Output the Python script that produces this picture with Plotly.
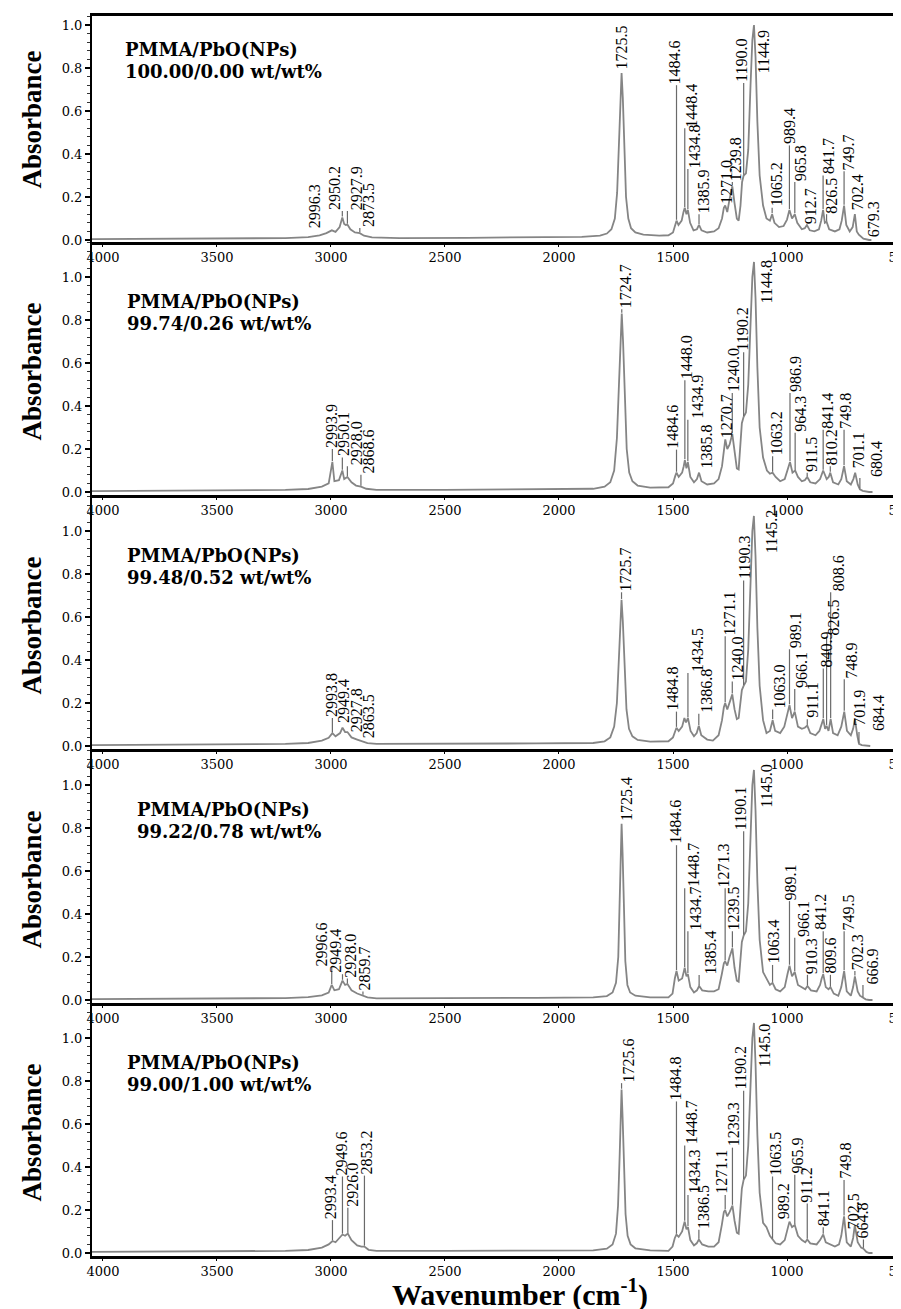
import numpy as np
import plotly.graph_objects as go

# ---------------- data ----------------
x_ticks = [4000, 3500, 3000, 2500, 2000, 1500, 1000, 500]
y_ticks = [0.0, 0.2, 0.4, 0.6, 0.8, 1.0]

titles = ["PMMA/PbO(NPs)"] * 5
ratios = ["100.00/0.00 wt/wt%", "99.74/0.26 wt/wt%", "99.48/0.52 wt/wt%",
          "99.22/0.78 wt/wt%", "99.00/1.00 wt/wt%"]

sp1_wn = [4048, 3800, 3500, 3200, 3100, 3050, 3020, 2996.3, 2980, 2962, 2950.2, 2942, 2935, 2927.9, 2915, 2895, 2873.5, 2855, 2820, 2700, 2400, 2100, 1900, 1820, 1790, 1770, 1755, 1745, 1737, 1731, 1725.5, 1720, 1714, 1706, 1696, 1684, 1665, 1630, 1560, 1520, 1500, 1490, 1484.6, 1476, 1462, 1454, 1448.4, 1441, 1434.8, 1425, 1410, 1395, 1385.9, 1375, 1350, 1320, 1300, 1285, 1277, 1271.0, 1262, 1252, 1239.8, 1230, 1220, 1212, 1204, 1197, 1190.0, 1180, 1170, 1160, 1152, 1144.9, 1138, 1130, 1120, 1105, 1090, 1075, 1065.2, 1055, 1035, 1015, 1000, 989.4, 978, 965.8, 955, 935, 922, 912.7, 900, 880, 860, 850, 841.7, 834, 826.5, 815, 790, 770, 760, 749.7, 740, 725, 712, 702.4, 694, 685, 679.3, 665, 640, 630]
sp1_ab = [0.004, 0.005, 0.006, 0.009, 0.013, 0.022, 0.032, 0.045, 0.038, 0.06, 0.105, 0.075, 0.07, 0.072, 0.05, 0.035, 0.032, 0.02, 0.012, 0.009, 0.01, 0.012, 0.015, 0.02, 0.03, 0.05, 0.1, 0.22, 0.45, 0.68, 0.777, 0.66, 0.42, 0.2, 0.1, 0.055, 0.035, 0.025, 0.02, 0.022, 0.035, 0.07, 0.09, 0.07, 0.09, 0.13, 0.15, 0.12, 0.14, 0.08, 0.045, 0.05, 0.07, 0.045, 0.035, 0.04, 0.055, 0.1, 0.15, 0.16, 0.13, 0.19, 0.25, 0.17, 0.1, 0.09, 0.16, 0.27, 0.30, 0.31, 0.42, 0.72, 0.93, 1.0, 0.85, 0.55, 0.3, 0.16, 0.1, 0.09, 0.12, 0.08, 0.06, 0.065, 0.095, 0.14, 0.1, 0.12, 0.08, 0.05, 0.055, 0.07, 0.045, 0.04, 0.05, 0.09, 0.14, 0.08, 0.085, 0.05, 0.04, 0.05, 0.09, 0.16, 0.07, 0.04, 0.06, 0.12, 0.04, 0.025, 0.02, 0.006, 0.0, 0.0]

sp2_wn = [4048, 3800, 3500, 3200, 3100, 3040, 3010, 2993.9, 2985, 2965, 2950.1, 2942, 2928.0, 2910, 2890, 2868.6, 2845, 2800, 2500, 2100, 1850, 1800, 1775, 1758, 1746, 1737, 1730, 1724.7, 1719, 1712, 1703, 1692, 1678, 1655, 1600, 1520, 1500, 1490, 1484.6, 1475, 1460, 1453, 1448.0, 1441, 1434.9, 1424, 1408, 1395, 1385.8, 1375, 1350, 1320, 1300, 1285, 1276, 1270.7, 1262, 1252, 1240.0, 1230, 1220, 1212, 1205, 1198, 1190.2, 1180, 1170, 1160, 1152, 1144.8, 1138, 1130, 1120, 1105, 1088, 1075, 1063.2, 1050, 1030, 1010, 997, 986.9, 976, 964.3, 952, 935, 922, 911.5, 898, 875, 855, 848, 841.4, 826, 817, 810.2, 798, 775, 762, 749.8, 738, 720, 709, 701.1, 690, 680.4, 668, 640, 625]
sp2_ab = [0.004, 0.005, 0.006, 0.01, 0.014, 0.025, 0.04, 0.14, 0.05, 0.055, 0.10, 0.06, 0.07, 0.045, 0.03, 0.025, 0.015, 0.01, 0.01, 0.012, 0.015, 0.025, 0.045, 0.1, 0.25, 0.5, 0.72, 0.83, 0.7, 0.45, 0.2, 0.09, 0.05, 0.03, 0.02, 0.022, 0.04, 0.075, 0.09, 0.07, 0.09, 0.12, 0.148, 0.11, 0.14, 0.07, 0.045, 0.06, 0.09, 0.05, 0.035, 0.04, 0.06, 0.12, 0.2, 0.245, 0.2, 0.22, 0.27, 0.18, 0.11, 0.105, 0.2, 0.32, 0.35, 0.37, 0.5, 0.82, 1.0, 1.07, 0.9, 0.58, 0.3, 0.16, 0.1, 0.085, 0.09, 0.07, 0.05, 0.06, 0.1, 0.14, 0.09, 0.1, 0.07, 0.05, 0.055, 0.07, 0.045, 0.04, 0.06, 0.08, 0.10, 0.06, 0.07, 0.09, 0.045, 0.035, 0.06, 0.12, 0.05, 0.035, 0.06, 0.09, 0.035, 0.012, 0.005, 0.0, 0.0]

sp3_wn = [4048, 3800, 3500, 3200, 3100, 3040, 3010, 2993.8, 2980, 2960, 2949.4, 2938, 2927.8, 2910, 2885, 2863.5, 2840, 2800, 2500, 2100, 1850, 1800, 1775, 1758, 1746, 1737, 1731, 1725.7, 1720, 1713, 1704, 1693, 1678, 1655, 1600, 1520, 1500, 1490, 1484.8, 1475, 1460, 1450, 1443, 1434.5, 1423, 1408, 1396, 1386.8, 1376, 1350, 1325, 1300, 1285, 1277, 1271.1, 1262, 1252, 1240.0, 1230, 1220, 1212, 1205, 1198, 1190.3, 1180, 1170, 1160, 1152, 1145.2, 1138, 1130, 1120, 1105, 1090, 1075, 1063.0, 1052, 1030, 1012, 1000, 989.1, 978, 966.1, 952, 935, 922, 911.1, 898, 875, 858, 848, 840.9, 833, 826.5, 818, 808.6, 798, 778, 762, 748.9, 737, 720, 710, 701.9, 692, 684.4, 672, 650, 635]
sp3_ab = [0.004, 0.006, 0.007, 0.01, 0.014, 0.025, 0.038, 0.06, 0.045, 0.06, 0.085, 0.065, 0.065, 0.04, 0.03, 0.022, 0.013, 0.01, 0.01, 0.012, 0.014, 0.022, 0.04, 0.09, 0.2, 0.42, 0.6, 0.68, 0.58, 0.38, 0.17, 0.08, 0.045, 0.028, 0.02, 0.022, 0.04, 0.07, 0.085, 0.07, 0.09, 0.13, 0.11, 0.13, 0.07, 0.045, 0.06, 0.094, 0.05, 0.03, 0.025, 0.05, 0.12, 0.18, 0.2, 0.17, 0.2, 0.24, 0.17, 0.125, 0.13, 0.2, 0.26, 0.28, 0.3, 0.45, 0.8, 1.0, 1.07, 0.88, 0.55, 0.28, 0.12, 0.06, 0.07, 0.12, 0.07, 0.06, 0.09, 0.15, 0.19, 0.13, 0.16, 0.09, 0.08, 0.085, 0.095, 0.06, 0.05, 0.07, 0.1, 0.125, 0.08, 0.094, 0.07, 0.125, 0.06, 0.05, 0.09, 0.16, 0.07, 0.05, 0.08, 0.125, 0.05, 0.01, 0.004, 0.0, 0.0]

sp4_wn = [4048, 3800, 3500, 3200, 3100, 3040, 3010, 2996.6, 2985, 2965, 2949.4, 2938, 2928.0, 2910, 2885, 2859.7, 2840, 2800, 2500, 2100, 1850, 1790, 1765, 1750, 1740, 1733, 1729, 1725.4, 1721, 1716, 1709, 1700, 1688, 1665, 1600, 1520, 1502, 1492, 1484.6, 1475, 1460, 1453, 1448.7, 1441, 1434.7, 1424, 1408, 1395, 1385.4, 1372, 1345, 1320, 1300, 1286, 1277, 1271.3, 1262, 1252, 1239.5, 1230, 1220, 1212, 1205, 1198, 1190.1, 1180, 1170, 1160, 1152, 1145.0, 1138, 1130, 1120, 1105, 1090, 1075, 1063.4, 1050, 1030, 1010, 998, 989.1, 978, 966.1, 952, 935, 920, 910.3, 895, 870, 855, 848, 841.2, 830, 818, 809.6, 795, 775, 762, 749.5, 738, 720, 710, 702.3, 690, 680, 666.9, 655, 640, 625]
sp4_ab = [0.004, 0.005, 0.006, 0.009, 0.013, 0.022, 0.035, 0.07, 0.045, 0.05, 0.09, 0.07, 0.075, 0.045, 0.03, 0.02, 0.012, 0.008, 0.008, 0.01, 0.012, 0.018, 0.035, 0.08, 0.2, 0.45, 0.7, 0.82, 0.68, 0.42, 0.18, 0.07, 0.035, 0.02, 0.012, 0.012, 0.03, 0.1, 0.135, 0.09, 0.1, 0.13, 0.15, 0.11, 0.12, 0.06, 0.035, 0.045, 0.065, 0.045, 0.04, 0.04, 0.05, 0.12, 0.17, 0.18, 0.16, 0.2, 0.24, 0.15, 0.09, 0.085, 0.16, 0.27, 0.30, 0.32, 0.45, 0.8, 1.0, 1.07, 0.88, 0.55, 0.28, 0.13, 0.1, 0.07, 0.08, 0.05, 0.04, 0.06, 0.12, 0.16, 0.11, 0.13, 0.07, 0.06, 0.05, 0.065, 0.045, 0.04, 0.07, 0.1, 0.12, 0.06, 0.05, 0.06, 0.03, 0.02, 0.06, 0.135, 0.04, 0.02, 0.06, 0.11, 0.04, 0.02, 0.01, 0.003, 0.0, 0.0]

sp5_wn = [4048, 3800, 3500, 3200, 3100, 3040, 3010, 2993.4, 2980, 2965, 2949.6, 2938, 2926.0, 2910, 2885, 2866, 2853.2, 2835, 2800, 2500, 2100, 1850, 1790, 1765, 1750, 1741, 1734, 1729, 1725.6, 1721, 1715, 1708, 1699, 1686, 1665, 1600, 1520, 1502, 1492, 1484.8, 1475, 1460, 1453, 1448.7, 1441, 1434.3, 1424, 1408, 1396, 1386.5, 1372, 1345, 1320, 1300, 1286, 1277, 1271.1, 1262, 1252, 1239.3, 1230, 1220, 1212, 1205, 1198, 1190.2, 1180, 1170, 1160, 1152, 1145.0, 1138, 1130, 1120, 1105, 1090, 1075, 1063.5, 1050, 1030, 1010, 998, 989.2, 978, 965.9, 952, 935, 920, 911.2, 898, 870, 855, 841.1, 830, 810, 790, 772, 762, 749.8, 738, 720, 710, 702.5, 690, 675, 664.8, 652, 640, 625]
sp5_ab = [0.005, 0.006, 0.007, 0.01, 0.014, 0.025, 0.04, 0.056, 0.05, 0.07, 0.086, 0.08, 0.09, 0.06, 0.035, 0.03, 0.03, 0.015, 0.01, 0.01, 0.01, 0.012, 0.02, 0.04, 0.09, 0.22, 0.45, 0.65, 0.76, 0.63, 0.4, 0.18, 0.08, 0.04, 0.022, 0.012, 0.01, 0.03, 0.07, 0.086, 0.075, 0.1, 0.13, 0.146, 0.11, 0.12, 0.06, 0.035, 0.045, 0.063, 0.04, 0.03, 0.03, 0.05, 0.13, 0.19, 0.2, 0.17, 0.19, 0.22, 0.15, 0.095, 0.09, 0.18, 0.3, 0.34, 0.36, 0.5, 0.82, 1.0, 1.07, 0.88, 0.55, 0.28, 0.14, 0.12, 0.08, 0.063, 0.045, 0.04, 0.06, 0.11, 0.146, 0.12, 0.13, 0.08, 0.06, 0.05, 0.063, 0.045, 0.04, 0.06, 0.086, 0.05, 0.04, 0.03, 0.04, 0.08, 0.17, 0.05, 0.03, 0.07, 0.13, 0.05, 0.025, 0.02, 0.005, 0.0, 0.0]

# peak labels: text (= wavenumber), label centre wavenumber, label bottom absorbance
pk1_txt = ["2996.3", "2950.2", "2927.9", "2873.5", "1725.5", "1484.6", "1448.4", "1434.8", "1385.9", "1271.0", "1239.8", "1190.0", "1144.9", "1065.2", "989.4", "965.8", "912.7", "841.7", "826.5", "749.7", "702.4", "679.3"]
pk1_lx = [3074, 2982, 2885, 2833, 1726, 1494, 1419, 1406, 1367, 1266, 1222, 1200, 1099, 1046, 989, 937, 893, 818, 805, 731, 687, 621]
pk1_ly = [0.05, 0.135, 0.135, 0.056, 0.79, 0.72, 0.52, 0.33, 0.12, 0.165, 0.27, 0.73, 0.77, 0.15, 0.44, 0.27, 0.07, 0.30, 0.12, 0.32, 0.135, 0.01]

pk2_txt = ["2993.9", "2950.1", "2928.0", "2868.6", "1724.7", "1484.6", "1448.0", "1434.9", "1385.8", "1270.7", "1240.0", "1190.2", "1144.8", "1063.2", "986.9", "964.3", "911.5", "841.4", "810.2", "749.8", "701.1", "680.4"]
pk2_lx = [3000, 2945, 2890, 2835, 1710, 1500, 1443, 1390, 1355, 1268, 1237, 1193, 1092, 1048, 965, 939, 895, 820, 807, 741, 689, 610]
pk2_ly = [0.20, 0.16, 0.12, 0.08, 0.85, 0.197, 0.52, 0.336, 0.105, 0.245, 0.46, 0.65, 0.87, 0.166, 0.46, 0.275, 0.09, 0.29, 0.12, 0.29, 0.105, 0.065]

pk3_txt = ["2993.8", "2949.4", "2927.8", "2863.5", "1725.7", "1484.8", "1434.5", "1386.8", "1271.1", "1240.0", "1190.3", "1145.2", "1063.0", "989.1", "966.1", "911.1", "840.9", "826.5", "808.6", "748.9", "701.9", "684.4"]
pk3_lx = [3000, 2945, 2890, 2835, 1710, 1500, 1390, 1351, 1254, 1219, 1184, 1070, 1031, 965, 939, 886, 825, 798, 776, 719, 680, 601]
pk3_ly = [0.13, 0.10, 0.06, 0.03, 0.715, 0.16, 0.34, 0.15, 0.51, 0.30, 0.77, 0.89, 0.17, 0.45, 0.265, 0.125, 0.36, 0.51, 0.715, 0.31, 0.09, 0.065]

pk4_txt = ["2996.6", "2949.4", "2928.0", "2859.7", "1725.4", "1484.6", "1448.7", "1434.7", "1385.4", "1271.3", "1239.5", "1190.1", "1145.0", "1063.4", "989.1", "966.1", "910.3", "841.2", "809.6", "749.5", "702.3", "666.9"]
pk4_lx = [3040, 2980, 2915, 2855, 1704, 1489, 1410, 1402, 1336, 1279, 1235, 1204, 1090, 1059, 985, 928, 893, 853, 809, 731, 687, 621]
pk4_ly = [0.15, 0.12, 0.10, 0.04, 0.83, 0.72, 0.52, 0.32, 0.116, 0.52, 0.32, 0.785, 0.89, 0.163, 0.46, 0.29, 0.117, 0.32, 0.117, 0.32, 0.135, 0.07]

pk5_txt = ["2993.4", "2949.6", "2926.0", "2853.2", "1725.6", "1484.8", "1448.7", "1434.3", "1386.5", "1271.1", "1239.3", "1190.2", "1145.0", "1063.5", "989.2", "965.9", "911.2", "841.1", "749.8", "702.5", "664.8"]
pk5_lx = [3004, 2956, 2904, 2842, 1696, 1491, 1418, 1405, 1367, 1286, 1234, 1205, 1098, 1051, 1017, 953, 918, 842, 743, 709, 671]
pk5_ly = [0.153, 0.356, 0.21, 0.36, 0.79, 0.705, 0.50, 0.27, 0.108, 0.27, 0.49, 0.755, 0.86, 0.356, 0.153, 0.364, 0.23, 0.12, 0.34, 0.108, 0.063]

spectra = [(sp1_wn, sp1_ab), (sp2_wn, sp2_ab), (sp3_wn, sp3_ab), (sp4_wn, sp4_ab), (sp5_wn, sp5_ab)]
peaks = [(pk1_txt, pk1_lx, pk1_ly), (pk2_txt, pk2_lx, pk2_ly), (pk3_txt, pk3_lx, pk3_ly),
         (pk4_txt, pk4_lx, pk4_ly), (pk5_txt, pk5_lx, pk5_ly)]

# ---------------- layout ----------------
W, H = 901, 1309
ML, MR, MT, MB = 84, 0, 8, 61
plot_h = H - MT - MB
axis_px = [234, 487, 741, 995, 1248]
top_px = [8, 234, 487, 741, 995]
zero_px = [232, 484, 738, 992, 1245]
px_per_unit = 215.0
label_x0 = [3912, 3904, 3904, 3860, 3904]

def frac(y):
    return (H - MB - y) / plot_h

SPEC_COLOR = "#858585"
TICK_FONT = dict(family="DejaVu Serif", size=13, color="black")

fig = go.Figure()
annotations = []
layout = {}

for i in range(5):
    k = i + 1
    sfx = "" if k == 1 else str(k)
    xa, ya = "x" + sfx, "y" + sfx
    wn, ab = spectra[i]
    fig.add_trace(go.Scatter(x=wn, y=ab, xaxis=xa, yaxis=ya, mode="lines",
                             line=dict(color=SPEC_COLOR, width=1.8),
                             hoverinfo="skip", showlegend=False))
    # leader lines
    order = np.argsort(wn)
    wn_s = np.array(wn)[order]
    ab_s = np.array(ab)[order]
    lx_list, ly_list = [], []
    txt, lxs, lys = peaks[i]
    for t, lx, ly in zip(txt, lxs, lys):
        p = float(t)
        pa = float(np.interp(p, wn_s, ab_s))
        if ly > pa + 0.015:
            lx_list += [p, p, None]
            ly_list += [pa + 0.004, ly, None]
        annotations.append(dict(x=lx, y=ly, xref=xa, yref=ya, text=t, textangle=-90,
                                xanchor="center", yanchor="bottom", showarrow=False,
                                borderpad=0,
                                font=dict(family="Liberation Serif", size=16, color="#000000")))
    fig.add_trace(go.Scatter(x=lx_list, y=ly_list, xaxis=xa, yaxis=ya, mode="lines",
                             line=dict(color="#6a6a6a", width=1.2),
                             hoverinfo="skip", showlegend=False))

    y0 = -(axis_px[i] - zero_px[i]) / px_per_unit
    y1 = (zero_px[i] - top_px[i]) / px_per_unit
    layout["xaxis" + sfx] = dict(domain=[0, 1], range=[4048, 465], anchor=ya,
                                 tickvals=x_ticks, ticktext=[str(v) for v in x_ticks],
                                 tickfont=TICK_FONT, showline=True, linecolor="black",
                                 linewidth=2.5, mirror=(k == 1), ticks="outside", ticklen=2,
                                 tickcolor="black", showgrid=False, zeroline=False,
                                 ticklabeloverflow="allow")
    layout["yaxis" + sfx] = dict(domain=[frac(axis_px[i]), frac(top_px[i])], range=[y0, y1],
                                 anchor=xa, tickvals=y_ticks,
                                 ticktext=["%.1f" % v for v in y_ticks],
                                 tickfont=TICK_FONT, showline=True, linecolor="black",
                                 linewidth=2, ticks="outside", ticklen=5, tickwidth=1.5,
                                 tickcolor="black",
                                 minor=dict(dtick=0.04, tick0=0, ticks="outside", ticklen=3,
                                            tickcolor="#333", tickwidth=1),
                                 showgrid=False, zeroline=False)
    # sample label
    annotations.append(dict(x=label_x0[i], y=0.885, xref=xa, yref=ya, text="<b>%s</b>" % titles[i],
                            xanchor="left", yanchor="middle", showarrow=False,
                            font=dict(family="DejaVu Serif", size=18, color="black")))
    annotations.append(dict(x=label_x0[i], y=0.785, xref=xa, yref=ya, text="<b>%s</b>" % ratios[i],
                            xanchor="left", yanchor="middle", showarrow=False,
                            font=dict(family="DejaVu Serif", size=18, color="black")))
    # y-axis title
    annotations.append(dict(x=(24 - ML) / (W - ML - MR), y=0.56, xref="paper", yref=ya,
                            text="<b>Absorbance</b>", textangle=-90, xanchor="center",
                            yanchor="middle", showarrow=False,
                            font=dict(family="Liberation Serif", size=27, color="black")))

annotations.append(dict(x=(512 - ML) / (W - ML - MR), y=frac(1284), xref="paper", yref="paper",
                        text="<b>Wavenumber (cm<sup>-1</sup>)</b>", xanchor="center",
                        yanchor="middle", showarrow=False,
                        font=dict(family="Liberation Serif", size=30, color="black")))

fig.update_layout(width=W, height=H, margin=dict(l=ML, r=MR, t=MT, b=MB, autoexpand=False),
                  paper_bgcolor="white", plot_bgcolor="white", showlegend=False,
                  annotations=annotations, **layout)

fig.write_html("out.html")
